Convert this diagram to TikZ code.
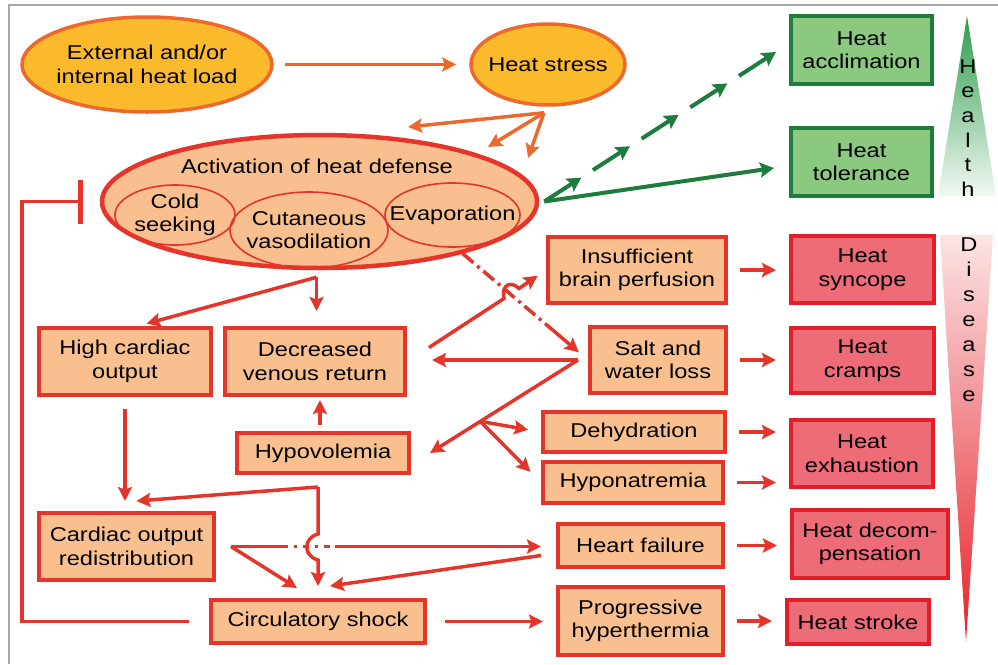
\documentclass[tikz,border=0pt]{standalone}
\usepackage{fontspec}
\setmainfont{Liberation Sans}[FakeStretch=1.18]
\usetikzlibrary{arrows.meta,calc,shapes.geometric}
\definecolor{loadyellow}{RGB}{251,186,44}
\definecolor{heatorange}{RGB}{236,104,44}
\definecolor{peach}{RGB}{250,191,142}
\definecolor{boxred}{RGB}{229,52,42}
\definecolor{sickpink}{RGB}{238,108,120}
\definecolor{sickred}{RGB}{226,30,40}
\definecolor{wellfill}{RGB}{140,201,128}
\definecolor{wellgreen}{RGB}{30,125,60}
\definecolor{trigreen}{RGB}{44,155,72}
\definecolor{trired}{RGB}{229,34,41}

\begin{document}
\begin{tikzpicture}[x=1pt,y=-1pt,>={Stealth[length=14pt,width=14pt,inset=2.5pt]},
  every node/.style={align=center,inner sep=0pt,font=\fontsize{20}{23.5}\selectfont},
  hot/.style={ellipse,draw=heatorange,line width=3.5pt,fill=loadyellow,inner xsep=-6pt},
  part/.style={ellipse,draw=boxred,line width=1.6pt,inner xsep=-16pt,inner ysep=-3pt},
  box/.style={rectangle,draw=boxred,line width=4pt,fill=peach},
  sick/.style={rectangle,draw=sickred,line width=4pt,fill=sickpink},
  well/.style={rectangle,draw=wellgreen,line width=4pt,fill=wellfill},
  oarr/.style={->,draw=heatorange,line width=3.5pt},
  rarr/.style={->,draw=boxred,line width=3.5pt},
  rline/.style={draw=boxred,line width=3.5pt},
  garr/.style={->,draw=wellgreen,line width=4pt,>={Stealth[length=14pt,width=15pt,inset=2.5pt]}}]
\useasboundingbox (0,0) rectangle (998,664);
\draw[gray!70,line width=1.2pt] (9,664) -- (9,5) -- (998,5);
\shade[top color=trigreen,bottom color=trigreen!6] (967,16) -- (996,196) -- (938,196) -- cycle;
\shade[top color=trired!12,bottom color=trired] (940,235) -- (993,235) -- (966,642) -- cycle;
\node[font=\fontsize{20}{24.6}\selectfont] (health) at (968,128) {H\\e\\a\\l\\t\\h};
\node[font=\fontsize{20}{25}\selectfont] (disease) at (969,320) {D\\i\\s\\e\\a\\s\\e};

\node[hot,minimum width=250pt,minimum height=95pt] (load) at (147,64.5) {External and/or\\internal heat load};
\node[hot,minimum width=154pt,minimum height=81pt] (stress) at (548,64.5) {Heat stress};
\node[ellipse,draw=boxred,line width=4.5pt,fill=peach,minimum width=435pt,minimum height=133pt] (defense) at (319.5,201.5) {};
\node (deftitle) at (317,166) {Activation of heat defense};
\node[part,minimum width=120pt,minimum height=60pt] (cold) at (175,215) {Cold\\seeking};
\node[part,minimum width=158pt,minimum height=76pt] (cutan) at (309,230) {Cutaneous\\vasodilation};
\node[part,minimum width=135pt,minimum height=64pt] (evap) at (452.5,215) {Evaporation};

\node[box,minimum width=172pt,minimum height=67pt] (hco) at (125,361.5) {High cardiac\\output};
\node[box,minimum width=180pt,minimum height=67pt] (dvr) at (315,361.5) {Decreased\\venous return};
\node[box,minimum width=172pt,minimum height=40pt] (hypo) at (323,453) {Hypovolemia};
\node[box,minimum width=175pt,minimum height=67pt] (cor) at (126.5,546.5) {Cardiac output\\redistribution};
\node[box,minimum width=214pt,minimum height=43pt] (circ) at (318,621.5) {Circulatory shock};
\node[box,minimum width=178pt,minimum height=66pt] (brain) at (637,270) {Insufficient\\brain perfusion};
\node[box,minimum width=136pt,minimum height=66pt] (salt) at (658,360) {Salt and\\water loss};
\node[box,minimum width=182pt,minimum height=40pt] (deh) at (634,432) {Dehydration};
\node[box,minimum width=180pt,minimum height=41pt] (hypn) at (633,482.5) {Hyponatremia};
\node[box,minimum width=165pt,minimum height=43pt] (failure) at (640.5,545.5) {Heart failure};
\node[box,minimum width=165pt,minimum height=68pt] (ph) at (640.5,621) {Progressive\\hyperthermia};

\node[well,minimum width=141pt,minimum height=68pt] (accl) at (861.5,50) {Heat\\acclimation};
\node[well,minimum width=141pt,minimum height=68pt] (tol) at (861.5,162) {Heat\\tolerance};
\node[sick,minimum width=143pt,minimum height=67pt] (syn) at (862.5,269.5) {Heat\\syncope};
\node[sick,minimum width=143pt,minimum height=65pt] (cramps) at (862.5,360.5) {Heat\\cramps};
\node[sick,minimum width=142pt,minimum height=67pt] (exh) at (862,453.5) {Heat\\exhaustion};
\node[sick,minimum width=156pt,minimum height=68pt] (hd) at (870,544) {Heat decom-\\pensation};
\node[sick,minimum width=142pt,minimum height=44pt] (hs) at (858,622) {Heat stroke};

\coordinate (sf) at ([shift={(-4,6)}]stress.south);
\coordinate (ta) at (408,127);
\coordinate (tb) at (488,147);
\coordinate (tc) at (528,158);
\draw[oarr,shorten <=11pt,shorten >=13pt] (load) -- (stress);
\foreach \t in {ta,tb,tc}
  \draw[oarr] (sf) -- (\t);

\coordinate (gs) at ([xshift=5]defense.east);
\coordinate (ga) at ([shift={(-13,2)}]accl.west);
\draw[garr] (gs) -- ([shift={(-15,6)}]tol.west);
\foreach \s/\e in {0/0.16,0.21/0.37,0.42/0.58,0.63/0.79,0.84/1}
  \draw[garr] ($(gs)!\s!(ga)$) -- ($(gs)!\e!(ga)$);

\coordinate (df) at ([shift={(-3,7)}]defense.south);
\draw[rarr,shorten >=15pt] (df) -- (df |- dvr.north);
\draw[rarr,shorten >=9pt] (df) -- (hco.70);
\draw[rarr,shorten <=6pt,shorten >=3pt] ([xshift=-3]hypo.north) -- ([xshift=-3]hypo.north |- dvr.south);
\draw[rarr,shorten <=12pt,shorten >=10pt] (hco.south) -- (hco.south |- cor.north);

\coordinate (dd) at ($(defense.-20)!0.72!(salt.west)$);
\draw[rline,dash pattern=on 14pt off 5pt on 3pt off 5pt] (defense.-20) -- (dd);
\draw[rarr,shorten >=12pt] (dd) -- (salt.west);
\draw[rarr,shorten >=10pt] ([shift={(22,-14)}]dvr.east) -- ++(75,-49)
  .. controls +(-3,-14) and +(-8,-8) .. ++(15,-10) -- (brain.west);

\coordinate (so) at ([xshift=-10]salt.west);
\coordinate (ht) at ([xshift=19]hypo.east);
\coordinate (bp) at ($(so)!0.66!(ht)$);
\draw[rarr,shorten >=25pt] (so) -- (so -| dvr.east);
\draw[rarr] (so) -- (ht);
\draw[rarr,shorten >=13pt] (bp) -- (deh.west);
\draw[rarr,shorten >=15pt] (bp) -- (hypn.west);

\coordinate (vf) at ([shift={(-5,12)}]hypo.south);
\draw[rarr] (vf) -- ([shift={(10,-10)}]cor.north);
\draw[rarr,shorten >=12pt] (vf) -- ++(0,47) .. controls +(-15,4) and +(-15,-4) .. ++(0,26) -- (vf |- circ.north);

\coordinate (cs) at ([xshift=15]cor.east);
\draw[rline] (cs) -- ++(51,0) coordinate (c1);
\draw[rline,dash pattern=on 6pt off 6pt on 3pt off 6pt] (c1) -- ++(53,0) coordinate (c2);
\draw[rarr,shorten >=15pt] (c2) -- (c2 -| failure.west);
\draw[rarr] (cs) -- ([shift={(-21,-10)}]circ.north);
\draw[rarr] ([shift={(-15,10)}]failure.west) -- ([shift={(12,-12)}]circ.north);
\draw[rarr,shorten <=18pt,shorten >=13pt] (circ.east) -- (circ.east -| ph.west);
\draw[rline,-{Bar[width=44pt,line width=4.5pt]},shorten <=20pt,shorten >=17pt]
  (circ.west) -| ([xshift=-78]defense.west) -- (defense.west);

\draw[rarr,shorten <=12pt,shorten >=13pt] (brain.east) -- (brain.east -| syn.west);
\draw[rarr,shorten <=12pt,shorten >=13pt] (salt.east) -- (salt.east -| cramps.west);
\draw[rarr,shorten <=12pt,shorten >=13pt] (deh.east) -- (deh.east -| exh.west);
\draw[rarr,shorten <=12pt,shorten >=13pt] (hypn.east) -- (hypn.east -| exh.west);
\draw[rarr,shorten <=12pt,shorten >=13pt] (failure.east) -- (failure.east -| hd.west);
\draw[rarr,shorten <=12pt,shorten >=13pt] (ph.east) -- (ph.east -| hs.west);
\end{tikzpicture}
\end{document}
